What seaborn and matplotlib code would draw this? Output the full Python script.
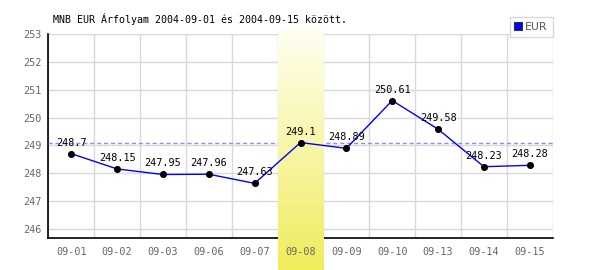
import numpy as np
import pandas as pd
import matplotlib
matplotlib.use("Agg")
import matplotlib.pyplot as plt
import matplotlib.transforms as mtransforms
from matplotlib.lines import Line2D
import seaborn as sns

# ---- data ----
dates = ["09-01", "09-02", "09-03", "09-06", "09-07", "09-08",
         "09-09", "09-10", "09-13", "09-14", "09-15"]
eur = [248.7, 248.15, 247.95, 247.96, 247.63, 249.1,
       248.89, 250.61, 249.58, 248.23, 248.28]
labels = ["248.7", "248.15", "247.95", "247.96", "247.63", "249.1",
          "248.89", "250.61", "249.58", "248.23", "248.28"]
highlight = "09-08"
yticks = [246, 247, 248, 249, 250, 251, 252, 253]
title = "MNB EUR Árfolyam 2004-09-01 és 2004-09-15 között."
series_name = "EUR"

df = pd.DataFrame({"date": dates, "value": eur, "label": labels})
df["pos"] = np.arange(len(df))
hi_pos = dates.index(highlight)
hi_val = eur[hi_pos]

sns.set_theme(style="white")
plt.rcParams["font.family"] = ["DejaVu Sans Mono", "DejaVu Sans"]

fig = plt.figure(figsize=(6, 2.7), dpi=100)
ax = fig.add_axes([48.3 / 600, 31.7 / 270, 504.4 / 600, 204.2 / 270])
ax.set_facecolor("white")

n = len(dates)
# grid
for b in np.arange(-0.5, n, 1.0):
    ax.axvline(b, color="#d9d9d9", lw=1, zorder=0.6)
for yv in yticks:
    ax.axhline(yv, color="#d9d9d9", lw=1, zorder=0.6)

# highlight band (gradient), extends beyond axes
grad = np.linspace(0, 1, 256).reshape(-1, 1)
top = np.array([255, 255, 242]) / 255
bot = np.array([240, 236, 92]) / 255
img = top[None, None, :] * (1 - grad[:, :, None]) + bot[None, None, :] * grad[:, :, None]
trans = mtransforms.blended_transform_factory(ax.transData, fig.transFigure)
im = ax.imshow(img, extent=(hi_pos - 0.5, hi_pos + 0.5, 0, (270 - 29) / 270),
               aspect="auto", transform=trans, clip_on=False, zorder=3,
               interpolation="bilinear")

# reference dashed line
ax.axhline(hi_val, color="#8c8cff", lw=1, ls=(0, (3, 2)), zorder=2.8)

sns.lineplot(data=df, x="pos", y="value", color="#0000ff", lw=1, ax=ax,
             zorder=4, legend=False)
sns.scatterplot(data=df, x="pos", y="value", color="black", s=26, ax=ax,
                zorder=5, edgecolor="black", linewidth=0, legend=False)

for _, r in df.iterrows():
    ax.annotate(r["label"], (r["pos"], r["value"]), xytext=(0, 11),
                textcoords="offset pixels", ha="center", va="center",
                fontsize=7.3, color="black", zorder=6)

ax.set_xlim(-0.5, n - 0.5)
ax.set_ylim(245.655, 253.0)
ax.set_xticks(df["pos"])
ax.set_xticklabels(dates)
ax.set_yticks(yticks)
ax.set_yticklabels([str(v) for v in yticks])
ax.xaxis.set_zorder(10)
ax.tick_params(axis="both", length=0, labelsize=7.3, labelcolor="#666666")
ax.tick_params(axis="x", pad=6)
ax.tick_params(axis="y", pad=5)
ax.set_xlabel("")
ax.set_ylabel("")
for s in ["top", "right"]:
    ax.spines[s].set_visible(False)
for s in ["left", "bottom"]:
    ax.spines[s].set_color("black")
    ax.spines[s].set_linewidth(1.2)
    ax.spines[s].set_zorder(2.5)

fig.text(53 / 600, (270 - 13) / 270, title, ha="left", va="top",
         fontsize=7.2, color="black")

handle = Line2D([], [], marker="s", color="none", markerfacecolor="#0000ff",
                markeredgecolor="#333333", markersize=5.5, markeredgewidth=0.8)
leg = fig.legend([handle], [series_name], loc="upper right",
                 bbox_to_anchor=(552.7 / 600, (270 - 17.3) / 270),
                 frameon=True, fancybox=False,
                 handlelength=0.7, handletextpad=0.3, borderpad=0.45,
                 borderaxespad=0, prop={"family": "DejaVu Sans", "size": 7.8})
leg.get_frame().set_edgecolor("#d0d0d0")
leg.get_frame().set_linewidth(1)
for t in leg.get_texts():
    t.set_color("#555555")

fig.savefig("out.png", dpi=100)
